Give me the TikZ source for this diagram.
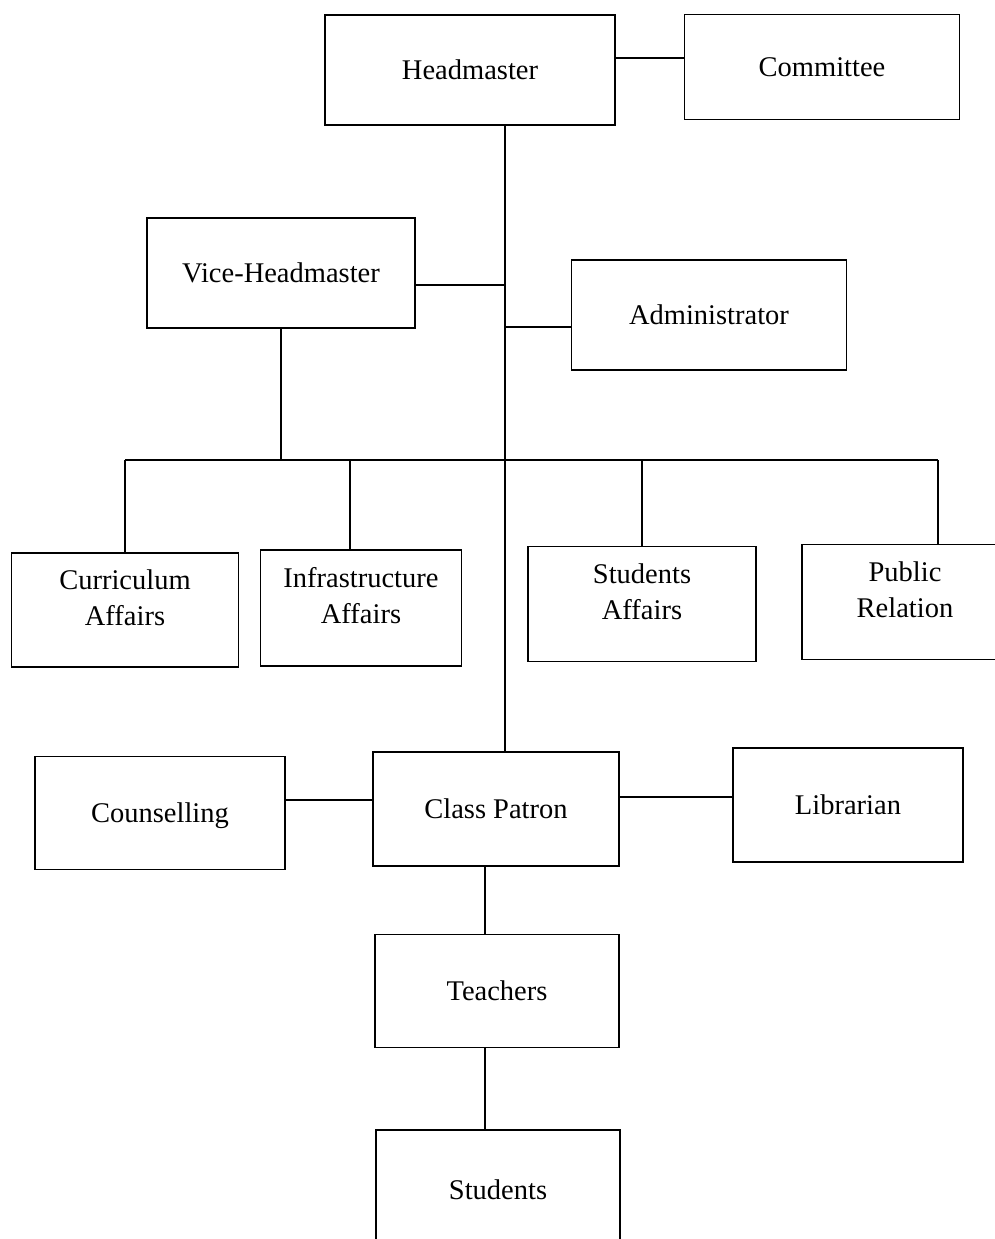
\documentclass[tikz,border=0pt]{standalone}
\usepackage{fontspec}
\setmainfont{Liberation Serif}
\usetikzlibrary{positioning,calc}

\begin{document}
\begin{tikzpicture}[
  x=1pt, y=1pt,
  unit/.style={draw, line width=1.3pt, inner sep=0pt, align=center,
    font=\fontsize{28.5}{36}\selectfont},
  twoline/.style={unit, text depth=25pt},
  link/.style={line width=1.3pt},
]
\clip (0,0) rectangle (995,-1239);

% top level
\node[unit, minimum width=290, minimum height=110] (head) at (470,-70) {Headmaster};
\node[unit, minimum width=275, minimum height=105] (comm) at (822,-67) {Committee};
\node[unit, minimum width=268, minimum height=110] (vice) at (281,-273) {Vice-Headmaster};
\node[unit, minimum width=275, minimum height=110] (admin) at (709,-315) {Administrator};

% affairs
\node[twoline, minimum width=227, minimum height=114] (curr) at (125,-610) {Curriculum\\Affairs};
\node[twoline, minimum width=201, minimum height=116] (infra) at (361,-608) {Infrastructure\\Affairs};
\node[twoline, minimum width=228, minimum height=115] (stud) at (642,-604) {Students\\Affairs};
\node[twoline, minimum width=206, minimum height=115] (pubrel) at (905,-602) {Public\\Relation};

% lower level
\node[unit, minimum width=246, minimum height=114] (patron) at (496,-809) {Class Patron};
\node[unit, minimum width=250, minimum height=113, text depth=0pt] (couns) at (160,-813) {Counselling};
\node[unit, minimum width=230, minimum height=114] (lib) at (848,-805) {Librarian};
\node[unit, minimum width=244, minimum height=113] (teach) at (497,-991) {Teachers};
\node[unit, minimum width=244, minimum height=120] (pupils) at (498,-1190) {Students};

% helper points
\coordinate (trunk) at (505,0);
\coordinate (bus) at (0,-460);
\coordinate (prdrop) at (938,-460);

% trunk line
\draw[link] (head.south -| trunk) -- (patron.north -| trunk);
\draw[link] ([yshift=9]comm.west) -- ([yshift=9]comm.west -| head.east);
\draw[link] ([yshift=-12]vice.east) -- ([yshift=-12]vice.east -| trunk);
\draw[link] ([yshift=-12]admin.west) -- ([yshift=-12]admin.west -| trunk);

% affairs bus
\draw[link] (vice.south) -- (vice.south |- bus);
\draw[link] (curr.north |- bus) -- (prdrop);
\draw[link] (curr.north |- bus) -- (curr.north);
\draw[link] ([xshift=-11]infra.north |- bus) -- ([xshift=-11]infra.north);
\draw[link] (stud.north |- bus) -- (stud.north);
\draw[link] (prdrop) -- (prdrop |- pubrel.north);

% class patron
\draw[link] ([yshift=13]couns.east) -- ([yshift=13]couns.east -| patron.west);
\draw[link] ([yshift=8]lib.west) -- ([yshift=8]lib.west -| patron.east);
\draw[link] ([xshift=-11]patron.south) -- ([xshift=-11]patron.south |- teach.north);
\draw[link] ([xshift=-12]teach.south) -- ([xshift=-12]teach.south |- pupils.north);

\end{tikzpicture}
\end{document}
